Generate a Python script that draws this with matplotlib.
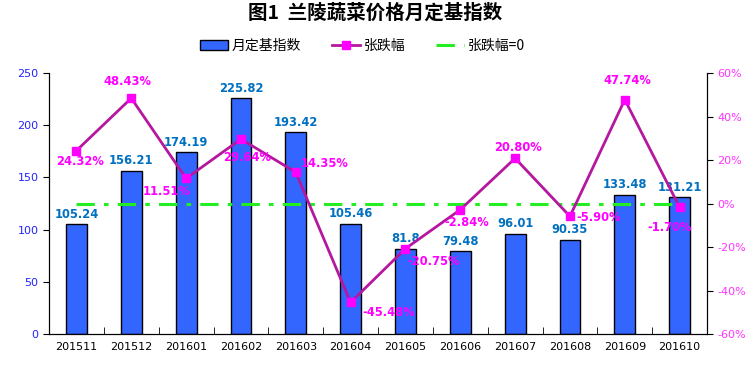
import matplotlib
matplotlib.use("Agg")
import matplotlib.pyplot as plt
from matplotlib.lines import Line2D
from matplotlib.patches import Patch

plt.rcParams['font.family'] = ['Noto Sans CJK SC', 'DejaVu Sans']

# data
months = ['201511', '201512', '201601', '201602', '201603', '201604',
          '201605', '201606', '201607', '201608', '201609', '201610']
index_vals = [105.24, 156.21, 174.19, 225.82, 193.42, 105.46,
              81.8, 79.48, 96.01, 90.35, 133.48, 131.21]
change_pct = [24.32, 48.43, 11.51, 29.64, 14.35, -45.48,
              -20.75, -2.84, 20.80, -5.90, 47.74, -1.70]
change_text = ['24.32%', '48.43%', '11.51%', '29.64%', '14.35%', '-45.48%',
               '-20.75%', '-2.84%', '20.80%', '-5.90%', '47.74%', '-1.70%']
# label offsets for the percent labels (pixels)
pct_offsets = [(4, -11), (-4, 17), (-19, -13), (6, -18), (29, 9), (38, -10),
               (28, -13), (6, -13), (3, 11), (29, -1), (3, 19), (-10, -20)]

x = list(range(len(months)))

fig = plt.figure(figsize=(7.54, 3.66), dpi=100)
ax = fig.add_axes([0.065, 0.0874, 0.8727, 0.7131])

ax.bar(x, index_vals, width=0.38, color='#3366FF', edgecolor='black', linewidth=1, zorder=2)
for xi, v in zip(x, index_vals):
    ax.annotate(f'{v:g}', (xi, v), xytext=(0, 2.5), textcoords='offset points',
                ha='center', va='bottom', color='#0070C0', fontsize=8.3,
                fontweight='bold', family='DejaVu Sans')

ax.set_xlim(-0.5, 11.5)
ax.set_ylim(0, 250)
ax.set_yticks([0, 50, 100, 150, 200, 250])
ax.tick_params(axis='y', colors='#2222FF', labelsize=8, direction='out', length=4)
ax.tick_params(axis='y', color='black')
ax.set_xticks(x)
ax.set_xticklabels(months, fontsize=8, family='DejaVu Sans')
ax.tick_params(axis='x', which='major', length=0, pad=6)
ax.set_xticks([i + 0.5 for i in range(-1, 12)], minor=True)
ax.tick_params(axis='x', which='minor', direction='in', length=5)
ax.spines['top'].set_visible(False)
for lab in ax.get_yticklabels():
    lab.set_family('DejaVu Sans')

ax2 = ax.twinx()
ax2.set_ylim(-60, 60)
ax2.set_yticks([-60, -40, -20, 0, 20, 40, 60])
ax2.set_yticklabels([f'{t}%' for t in [-60, -40, -20, 0, 20, 40, 60]], family='DejaVu Sans')
ax2.tick_params(axis='y', colors='#FF33FF', labelsize=8, direction='out', length=4)
ax2.tick_params(axis='y', color='black')
ax2.spines['top'].set_visible(False)

ax2.plot(x, [0] * len(x), color='#22EE22', linewidth=2.2, dashes=(6, 3, 1.5, 3), zorder=3)
ax2.plot(x, change_pct, color='#B5179E', linewidth=2, marker='s', markersize=6,
         markerfacecolor='#FF00FF', markeredgecolor='#FF00FF', zorder=4)
for xi, v, t, off in zip(x, change_pct, change_text, pct_offsets):
    ax2.annotate(t, (xi, v), xytext=off, textcoords='offset pixels', ha='center', va='center',
                 color='#FF00FF', fontsize=8.3, fontweight='bold', family='DejaVu Sans', zorder=5)

fig.suptitle('图1  兰陵蔬菜价格月定基指数', fontsize=14, fontweight='bold', x=0.498, y=0.99)

handles = [Patch(facecolor='#3366FF', edgecolor='black'),
           Line2D([], [], color='#B5179E', linewidth=2, marker='s', markersize=6,
                  markerfacecolor='#FF00FF', markeredgecolor='#FF00FF'),
           Line2D([], [], color='#22EE22', linewidth=2.2, dashes=(6, 3, 1.5, 3))]
fig.legend(handles, ['月定基指数', '张跌幅', '张跌幅=0'], loc='center', ncol=3,
           bbox_to_anchor=(0.481, 0.875), frameon=False, fontsize=10, columnspacing=2.2,
           handlelength=2, handletextpad=0.3)

fig.savefig('out.png', dpi=100)
